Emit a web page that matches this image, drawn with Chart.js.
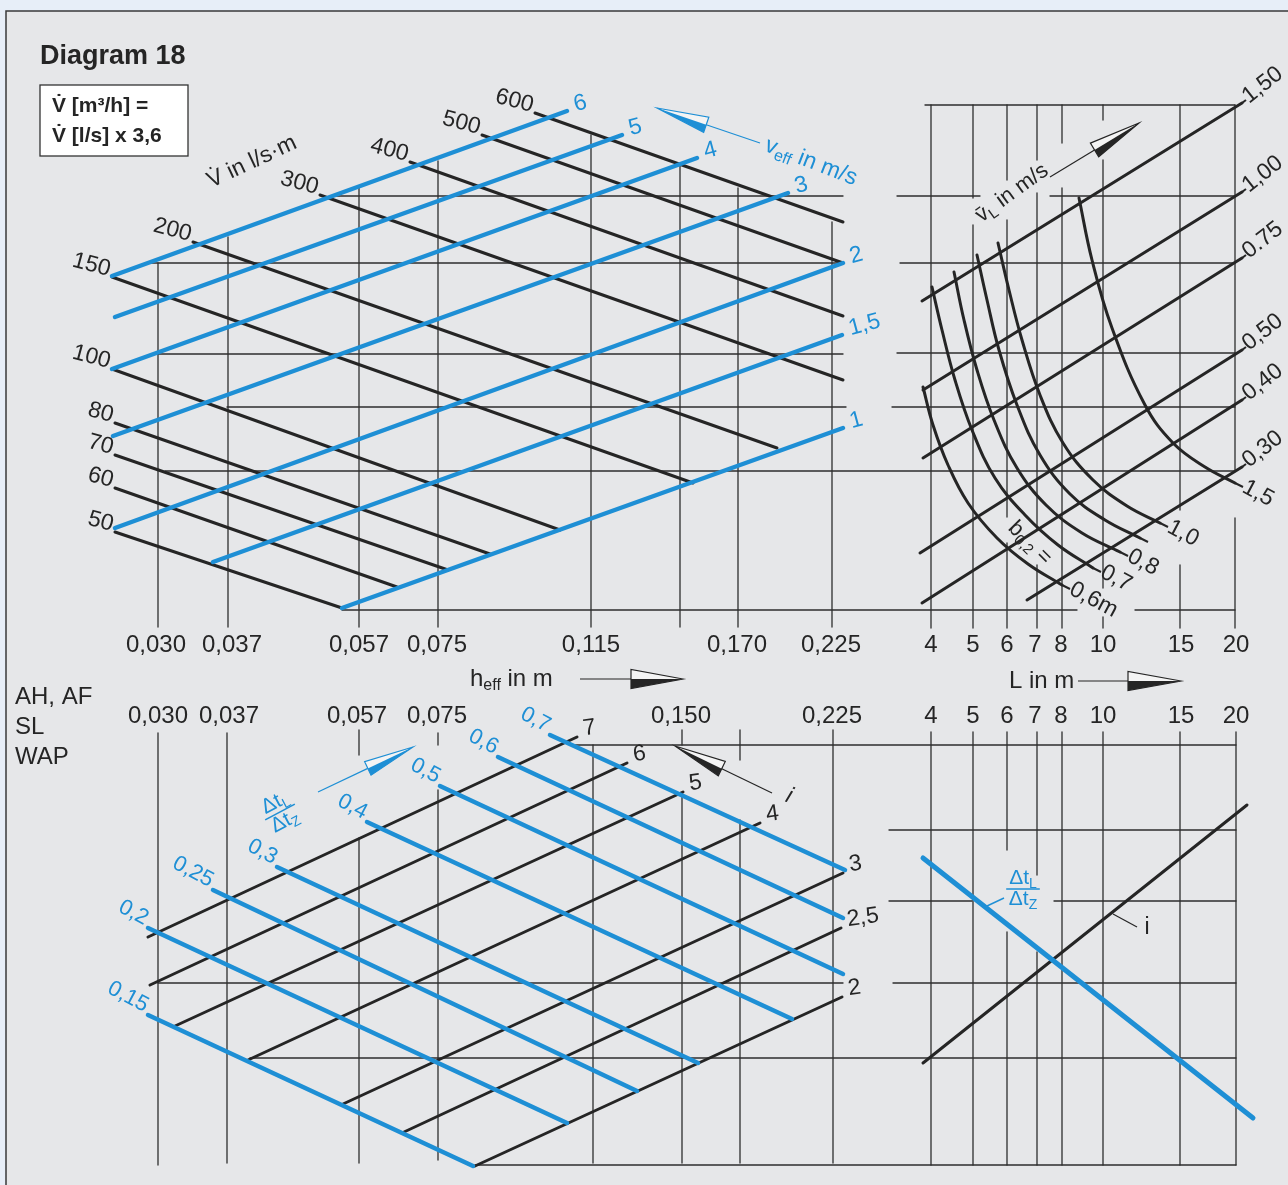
<!DOCTYPE html>
<html>
<head>
<meta charset="utf-8">
<title>Diagram 18</title>
<script src="https://cdn.jsdelivr.net/npm/chart.js@4.4.1/dist/chart.umd.min.js"></script>
<style>
  html, body { margin: 0; padding: 0; background: #e7eef8; }
  canvas { display: block; }
</style>
</head>
<body>
<canvas id="diagram" width="1288" height="1185"></canvas>
<script>
// nomogram values; coordinates are drawing units (1 unit = 1 px of the sheet)
const W = 1288, H = 1185;

// h_eff and L scales
const hEffTicksTop = ['0,030', '0,037', '0,057', '0,075', '0,115', '0,170', '0,225'];
const hEffAtTop = [156, 232, 359, 437, 591, 737, 831];
const hEffTicksLow = ['0,030', '0,037', '0,057', '0,075', '0,150', '0,225'];
const hEffAtLow = [158, 229, 357, 437, 681, 832];
const lengthTicks = ['4', '5', '6', '7', '8', '10', '15', '20'];
const lengthAt = [931, 973, 1007, 1035, 1061, 1103, 1181, 1236];

// V in l/s.m (black) - start and end of each line
const flowLabels = ['50', '60', '70', '80', '100', '150', '200', '300', '400', '500', '600'];
const flowFrom = [[115, 532], [115, 488], [115, 455], [115, 423], [112, 369], [112, 277], [193, 242], [320, 195], [410, 162], [482, 135], [535, 113]];
const flowTo = [[342, 608], [397, 587], [448, 570], [490, 554], [560, 530], [693, 483], [777, 448], [843, 380], [843, 316], [843, 263], [843, 222]];

// v_eff in m/s (blue)
const veffLabels = ['1', '1,5', '2', '3', '4', '5', '6'];
const veffFrom = [[342, 608], [213, 562], [115, 528], [113, 436], [112, 369], [115, 317], [112, 276]];
const veffTo = [[843, 428], [842, 335], [843, 263], [788, 193], [697, 158], [622, 135], [567, 111]];

// mean air speed v_L in m/s (black, right upper field)
const vLLabels = ['1,50', '1,00', '0.75', '0,50', '0,40', '0,30'];
const vLFrom = [[922, 301], [923, 390], [923, 458], [920, 553], [922, 603], [1027, 600]];
const vLTo = [[1242, 103], [1242, 192], [1242, 258], [1242, 350], [1242, 400], [1242, 467]];

// b0,2 curves
const widthLabels = ['0,6m', '0,7', '0,8', '', '1,0', '1,5'];
const widthCurves = [
  [[923, 387], [933, 425], [948, 465], [968, 503], [997, 538], [1028, 564], [1062, 585]],
  [[932, 287], [942, 330], [955, 380], [972, 430], [995, 478], [1025, 515], [1058, 545], [1093, 568]],
  [[954, 272], [964, 320], [977, 370], [994, 420], [1017, 468], [1046, 505], [1082, 533], [1120, 552]],
  [[977, 255], [987, 300], [999, 350], [1017, 405], [1040, 455], [1070, 494], [1105, 520], [1140, 538]],
  [[998, 243], [1009, 290], [1022, 340], [1040, 395], [1063, 443], [1093, 480], [1127, 506], [1160, 523]],
  [[1079, 198], [1092, 260], [1112, 328], [1145, 405], [1173, 443], [1205, 467], [1235, 483]]
];

// i (black, lower left)
const iLabels = ['7', '6', '5', '4', '3', '2,5', '2'];
const iFrom = [[148, 937], [150, 985], [175, 1026], [248, 1060], [343, 1104], [404, 1132], [475, 1166]];
const iTo = [[577, 737], [627, 763], [683, 792], [760, 823], [843, 873], [841, 928], [842, 997]];

// dt_L / dt_Z (blue, lower left)
const ratioLabels = ['0,15', '0,2', '0,25', '0,3', '0,4', '0,5', '0,6', '0,7'];
const ratioFrom = [[148, 1015], [148, 928], [213, 890], [277, 867], [367, 822], [440, 786], [498, 757], [550, 735]];
const ratioTo = [[473, 1166], [567, 1123], [637, 1091], [698, 1063], [792, 1019], [843, 974], [843, 918], [845, 870]];

// lower right: the i line and the dt ratio line
const iLineRight = [[923, 1063], [1247, 805]];
const ratioLineRight = [[923, 858], [1253, 1118]];

// grid segments: [x, y0, y1] and [y, x0, x1]
const gridV = [
  [158, 263, 627], [228, 237, 627], [359, 188, 627], [438, 161, 627], [591, 135, 627], [680, 165, 627], [738, 188, 627], [832, 222, 627],
  [931, 105, 628], [973, 105, 198], [973, 225, 628], [1007, 105, 180], [1007, 220, 517], [1007, 543, 628],
  [1037, 105, 160], [1037, 193, 530], [1037, 565, 628], [1062, 105, 143], [1062, 188, 628],
  [1103, 105, 120], [1103, 160, 588], [1103, 617, 628], [1180, 105, 510], [1180, 565, 628], [1235, 105, 470], [1235, 518, 628],
  [158, 733, 1165], [227, 733, 1163], [359, 730, 755], [359, 838, 1163], [438, 733, 745], [438, 790, 1160], [593, 745, 1163],
  [682, 730, 745], [682, 793, 1163], [740, 730, 760], [740, 820, 1163], [833, 730, 1163],
  [931, 732, 1165], [973, 732, 1165], [1007, 732, 850], [1007, 932, 1165], [1037, 732, 875], [1037, 952, 1165],
  [1062, 732, 1165], [1103, 732, 1165], [1180, 732, 1165], [1236, 732, 1165]
];
const gridH = [
  [196, 332, 843], [263, 150, 843], [354, 157, 843], [407, 227, 846], [471, 165, 1235], [610, 342, 1077], [610, 1135, 1235],
  [105, 925, 1235], [196, 897, 980], [196, 1050, 1235], [263, 900, 1235], [353, 897, 1235], [407, 892, 1235],
  [745, 573, 1236], [830, 889, 1236], [901, 889, 972], [901, 1054, 1236], [983, 158, 843], [983, 893, 1236],
  [1058, 250, 1236], [1165, 475, 1236]
];

const ink = '#252525';
const blue = '#1e8fd5';
const FONT = '"Liberation Sans", Arial, Helvetica, sans-serif';

const datasets = [];
function addLine(pts, color, width, order, tension) {
  datasets.push({
    data: pts.map(p => ({ x: p[0], y: p[1] })),
    showLine: true,
    borderColor: color,
    borderWidth: width,
    pointRadius: 0,
    tension: tension || 0,
    fill: false,
    order: order
  });
}

gridV.forEach(g => addLine([[g[0], g[1]], [g[0], g[2]]], '#2e2e2e', 1.3, 5));
gridH.forEach(g => addLine([[g[1], g[0]], [g[2], g[0]]], '#2e2e2e', 1.3, 5));
flowFrom.forEach((p, i) => addLine([p, flowTo[i]], ink, 3, 3));
vLFrom.forEach((p, i) => addLine([p, vLTo[i]], ink, 3, 3));
widthCurves.forEach(c => addLine(c, ink, 3, 3, 0.4));
iFrom.forEach((p, i) => addLine([p, iTo[i]], ink, 3, 3));
addLine(iLineRight, ink, 3, 3);
veffFrom.forEach((p, i) => addLine([p, veffTo[i]], blue, 4.5, 1));
ratioFrom.forEach((p, i) => addLine([p, ratioTo[i]], blue, 4.5, 1));
addLine(ratioLineRight, blue, 5, 1);

// text and arrows drawn on top through the chart scales
const sheetPlugin = {
  id: 'sheet',
  beforeDraw(chart) {
    const ctx = chart.ctx;
    const X = v => chart.scales.x.getPixelForValue(v);
    const Y = v => chart.scales.y.getPixelForValue(v);
    ctx.save();
    ctx.fillStyle = '#e7eef8';
    ctx.fillRect(0, 0, chart.width, chart.height);
    ctx.fillStyle = '#e6e7e9';
    ctx.strokeStyle = '#3a3a3a';
    ctx.lineWidth = 1.5;
    ctx.fillRect(X(6), Y(11), X(W + 20) - X(6), Y(H + 20) - Y(11));
    ctx.strokeRect(X(6), Y(11), X(W + 20) - X(6), Y(H + 20) - Y(11));
    ctx.restore();
  },
  afterDatasetsDraw(chart) {
    const ctx = chart.ctx;
    const X = v => chart.scales.x.getPixelForValue(v);
    const Y = v => chart.scales.y.getPixelForValue(v);

    function put(s, x, y, o) {
      o = o || {};
      ctx.save();
      ctx.translate(X(x), Y(y));
      ctx.rotate((o.rot || 0) * Math.PI / 180);
      ctx.font = (o.italic ? 'italic ' : '') + (o.bold ? 'bold ' : '') + (o.size || 24) + 'px ' + FONT;
      ctx.fillStyle = o.color || ink;
      ctx.textAlign = o.align || 'center';
      ctx.textBaseline = 'middle';
      ctx.fillText(s, 0, 0);
      ctx.restore();
    }

    // parts: [text, 'n' | 'sub']
    function rich(parts, x, y, o) {
      o = o || {};
      const size = o.size || 24;
      const small = Math.round(size * 0.68);
      ctx.save();
      ctx.translate(X(x), Y(y));
      ctx.rotate((o.rot || 0) * Math.PI / 180);
      ctx.fillStyle = o.color || ink;
      ctx.textBaseline = 'middle';
      ctx.textAlign = 'left';
      let total = 0;
      parts.forEach(p => {
        ctx.font = (p[1] === 'sub' ? small : size) + 'px ' + FONT;
        total += ctx.measureText(p[0]).width;
      });
      let cx = o.align === 'left' ? 0 : -total / 2;
      parts.forEach(p => {
        ctx.font = (p[1] === 'sub' ? small : size) + 'px ' + FONT;
        ctx.fillText(p[0], cx, p[1] === 'sub' ? size * 0.28 : 0);
        cx += ctx.measureText(p[0]).width;
      });
      ctx.restore();
      return total;
    }

    function fraction(x, y, rot, color, size) {
      ctx.save();
      ctx.translate(X(x), Y(y));
      ctx.rotate(rot * Math.PI / 180);
      ctx.strokeStyle = color;
      ctx.lineWidth = 1.6;
      ctx.beginPath();
      ctx.moveTo(-size * 0.8, 0);
      ctx.lineTo(size * 0.8, 0);
      ctx.stroke();
      ctx.restore();
      const dx = Math.sin(rot * Math.PI / 180) * size * 0.5;
      const dy = Math.cos(rot * Math.PI / 180) * size * 0.5;
      rich([['\u0394t', 'n'], ['L', 'sub']], x + dx, y - dy, { rot: rot, color: color, size: size });
      rich([['\u0394t', 'n'], ['Z', 'sub']], x - dx, y + dy, { rot: rot, color: color, size: size });
    }

    // half-filled arrow head pointing at tip
    function arrow(tail, tip, len, half, color, side) {
      const dx = tip[0] - tail[0], dy = tip[1] - tail[1];
      const d = Math.hypot(dx, dy);
      const ux = dx / d, uy = dy / d;
      const nx = -uy * side, ny = ux * side;
      const bx = tip[0] - ux * len, by = tip[1] - uy * len;
      ctx.save();
      ctx.strokeStyle = color;
      ctx.lineWidth = 1.2;
      ctx.beginPath();
      ctx.moveTo(X(tail[0]), Y(tail[1]));
      ctx.lineTo(X(bx), Y(by));
      ctx.stroke();
      ctx.beginPath();
      ctx.moveTo(X(tip[0]), Y(tip[1]));
      ctx.lineTo(X(bx - nx * half), Y(by - ny * half));
      ctx.lineTo(X(bx + nx * half), Y(by + ny * half));
      ctx.closePath();
      ctx.fillStyle = '#f4f4f4';
      ctx.fill();
      ctx.stroke();
      ctx.beginPath();
      ctx.moveTo(X(tip[0]), Y(tip[1]));
      ctx.lineTo(X(bx), Y(by));
      ctx.lineTo(X(bx + nx * half), Y(by + ny * half));
      ctx.closePath();
      ctx.fillStyle = color;
      ctx.fill();
      ctx.restore();
    }

    function seg(a, b, color, w) {
      ctx.save();
      ctx.strokeStyle = color;
      ctx.lineWidth = w;
      ctx.beginPath();
      ctx.moveTo(X(a[0]), Y(a[1]));
      ctx.lineTo(X(b[0]), Y(b[1]));
      ctx.stroke();
      ctx.restore();
    }

    // title and conversion box
    put('Diagram 18', 40, 57, { bold: true, size: 27, align: 'left' });
    ctx.save();
    ctx.fillStyle = '#ffffff';
    ctx.strokeStyle = '#333333';
    ctx.lineWidth = 1.3;
    ctx.fillRect(X(40), Y(85), X(188) - X(40), Y(156) - Y(85));
    ctx.strokeRect(X(40), Y(85), X(188) - X(40), Y(156) - Y(85));
    ctx.restore();
    put('V\u0307 [m\u00b3/h] =', 52, 106, { bold: true, size: 21, align: 'left' });
    put('V\u0307 [l/s] x 3,6', 52, 136, { bold: true, size: 21, align: 'left' });

    // tick labels
    hEffTicksTop.forEach((t, i) => put(t, hEffAtTop[i], 645));
    hEffTicksLow.forEach((t, i) => put(t, hEffAtLow[i], 716));
    lengthTicks.forEach((t, i) => { put(t, lengthAt[i], 645); put(t, lengthAt[i], 716); });

    rich([['h', 'n'], ['eff', 'sub'], [' in m', 'n']], 470, 679, { align: 'left' });
    arrow([580, 679], [683, 679], 52, 9.5, ink, 1);
    put('L in m', 1009, 681, { align: 'left' });
    arrow([1078, 681], [1181, 681], 53, 9.5, ink, 1);

    put('AH, AF', 15, 697, { align: 'left' });
    put('SL', 15, 727, { align: 'left' });
    put('WAP', 15, 757, { align: 'left' });

    // line labels
    flowLabels.forEach((t, i) => put(t, flowFrom[i][0] - 2, flowFrom[i][1] - 7, { align: 'right', rot: 15, size: 23 }));
    veffLabels.forEach((t, i) => put(t, veffTo[i][0] + 7, veffTo[i][1] - 6, { align: 'left', rot: -15, color: blue, size: 23 }));
    vLLabels.forEach((t, i) => {
      seg(vLTo[i], [vLTo[i][0] + 4, vLTo[i][1] - 3], ink, 2);
      put(t, vLTo[i][0] + 3, vLTo[i][1] - 4, { align: 'left', rot: -38, size: 23 });
    });
    widthCurves.forEach((c, i) => {
      const e = c[c.length - 1];
      seg(e, [e[0] + 8, e[1] + 4], ink, 2);
      if (widthLabels[i]) put(widthLabels[i], e[0] + 9, e[1] + 3, { align: 'left', rot: 28, size: 23 });
    });
    iLabels.forEach((t, i) => put(t, iTo[i][0] + 6, iTo[i][1] - 8, { align: 'left', size: 23, rot: -8 }));
    ratioLabels.forEach((t, i) => put(t, ratioFrom[i][0] - 1, ratioFrom[i][1] - 8, { align: 'right', rot: 28, color: blue, size: 22 }));

    // axis captions
    put('V\u0307 in l/s\u00b7m', 252, 162, { rot: -25, size: 23 });
    rich([['v', 'n'], ['eff', 'sub'], [' in m/s', 'n']], 811, 162, { rot: 21, color: blue, size: 23 });
    arrow([760, 143], [657, 108], 52, 8, blue, -1);
    rich([['v\u0304', 'n'], ['L', 'sub'], [' in m/s', 'n']], 1012, 193, { rot: -36, size: 22 });
    arrow([1050, 177], [1139, 123], 52, 8, ink, 1);
    rich([['b', 'n'], ['0,2', 'sub'], [' =', 'n']], 1030, 543, { rot: 45, size: 22 });

    fraction(280, 812, -28, blue, 21);
    arrow([318, 792], [413, 747], 50, 7.5, blue, 1);
    put('i', 789, 796, { italic: true, size: 23, rot: 20 });
    arrow([772, 793], [675, 746], 52, 8, ink, -1);

    fraction(1023, 889, 0, blue, 21);
    seg([1004, 898], [987, 906], blue, 1.4);
    put('i', 1147, 928, { size: 23 });
    seg([1137, 927], [1113, 914], ink, 1.2);
  }
};

new Chart(document.getElementById('diagram'), {
  type: 'scatter',
  data: { datasets: datasets },
  options: {
    responsive: false,
    animation: false,
    events: [],
    layout: { padding: 0 },
    plugins: { legend: { display: false }, tooltip: { enabled: false } },
    elements: { line: { borderCapStyle: 'round' } },
    scales: {
      x: { type: 'linear', min: 0, max: W, display: false },
      y: { type: 'linear', min: 0, max: H, reverse: true, display: false }
    }
  },
  plugins: [sheetPlugin]
});
</script>
</body>
</html>
